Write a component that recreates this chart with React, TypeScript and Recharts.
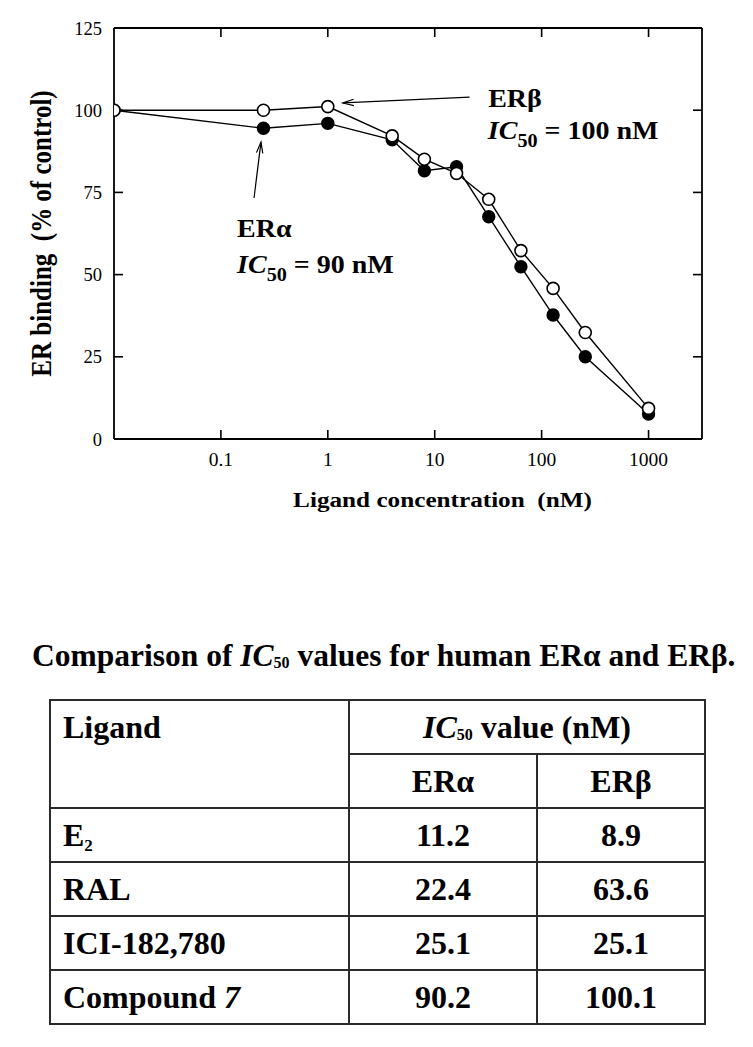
import React from 'react';
import { LineChart, Line, XAxis, YAxis, ReferenceLine, ReferenceDot } from 'recharts';

const concentrations = [0.01, 0.25, 1, 4, 8, 16, 32, 64, 128, 256, 1000];
const erAlphaBinding = [100, 94.5, 96.0, 91.0, 81.6, 82.8, 67.6, 52.4, 37.7, 25.0, 7.6];
const erBetaBinding = [100, 100, 101.1, 92.2, 85.1, 80.8, 72.9, 57.3, 45.8, 32.4, 9.3];
const xTicks = [0.1, 1, 10, 100, 1000];
const yTicks = [0, 25, 50, 75, 100, 125];
const xDomain = [0.01, 3162.28];
const yDomain = [0, 125];

const tableLigands = ['E2', 'RAL', 'ICI-182,780', 'Compound 7'];
const ic50Alpha = ['11.2', '22.4', '25.1', '90.2'];
const ic50Beta = ['8.9', '63.6', '25.1', '100.1'];

const data = concentrations.map((x, i) => ({ x, alpha: erAlphaBinding[i], beta: erBetaBinding[i] }));

const FONT = "'Liberation Serif', 'Times New Roman', Times, serif";
const INK = '#000';
const TICK_LEN = 9;

const arrowShape = (p: any) => {
  const { x1, y1, x2, y2 } = p;
  const dx = x2 - x1;
  const dy = y2 - y1;
  const len = Math.sqrt(dx * dx + dy * dy) || 1;
  const ux = dx / len;
  const uy = dy / len;
  const hl = 11;
  const hw = 3.2;
  const bx = x2 - ux * hl;
  const by = y2 - uy * hl;
  const px = -uy * hw;
  const py = ux * hw;
  return (
    <g>
      <line x1={x1} y1={y1} x2={x2} y2={y2} stroke={INK} strokeWidth={1.2} />
      <path d={`M${bx + px},${by + py} L${x2},${y2} L${bx - px},${by - py}`} fill="none" stroke={INK} strokeWidth={1.2} />
    </g>
  );
};

// inward tick marks on bottom and top borders
const xTickShape = (p: any) => {
  const top = Math.min(p.y1, p.y2);
  const bot = Math.max(p.y1, p.y2);
  return (
    <g>
      <line x1={p.x1} x2={p.x1} y1={bot} y2={bot - TICK_LEN} stroke={INK} strokeWidth={1.6} />
      <line x1={p.x1} x2={p.x1} y1={top} y2={top + TICK_LEN} stroke={INK} strokeWidth={1.6} />
    </g>
  );
};

// inward tick marks on left and right borders
const yTickShape = (p: any) => {
  const left = Math.min(p.x1, p.x2);
  const right = Math.max(p.x1, p.x2);
  return (
    <g>
      <line x1={left} x2={left + TICK_LEN} y1={p.y1} y2={p.y1} stroke={INK} strokeWidth={1.6} />
      <line x1={right} x2={right - TICK_LEN} y1={p.y1} y2={p.y1} stroke={INK} strokeWidth={1.6} />
    </g>
  );
};

const xTickLabel = (p: any) => (
  <text x={p.x} y={p.y} dy="0.71em" textAnchor="middle" fontFamily={FONT} fontSize={19.5} fill={INK}>
    {String(p.payload.value)}
  </text>
);

const yTickLabel = (p: any) => (
  <text x={p.x} y={p.y} dy="0.355em" textAnchor="end" fontFamily={FONT} fontSize={18.5} fill={INK}>
    {String(p.payload.value)}
  </text>
);

const nameLabel = (txt: string) => (p: any) => (
  <text
    transform={`translate(${p.cx},${p.cy}) scale(1.12,1)`}
    fontFamily={FONT}
    fontWeight="bold"
    fontSize={25}
    fill={INK}
  >
    {txt}
  </text>
);

const icLabel = (value: string) => (p: any) => (
  <text
    transform={`translate(${p.cx},${p.cy}) scale(1.12,1)`}
    fontFamily={FONT}
    fontWeight="bold"
    fontSize={25}
    fill={INK}
    style={{ whiteSpace: 'pre' }}
  >
    <tspan fontStyle="italic">IC</tspan>
    <tspan fontSize={18} dy={8}>50</tspan>
    <tspan dy={-8}>{` = ${value} nM`}</tspan>
  </text>
);

const yLabel = (props: any) => {
  const vb = props.viewBox || {};
  const cx = vb.x - 3;
  const cy = vb.y + vb.height / 2;
  return (
    <text
      transform={`translate(${cx},${cy}) rotate(-90) scale(1,1.15)`}
      textAnchor="middle"
      fontFamily={FONT}
      fontWeight="bold"
      fontSize={25}
      fill={INK}
      style={{ whiteSpace: 'pre' }}
    >
      {'ER binding  (% of control)'}
    </text>
  );
};

const xLabel = (props: any) => {
  const vb = props.viewBox || {};
  const cx = vb.x + vb.width / 2 + 34.5;
  const cy = vb.y + 68;
  return (
    <text
      transform={`translate(${cx},${cy}) scale(1.2,1)`}
      textAnchor="middle"
      fontFamily={FONT}
      fontWeight="bold"
      fontSize={21}
      fill={INK}
      style={{ whiteSpace: 'pre' }}
    >
      {'Ligand concentration  (nM)'}
    </text>
  );
};

const renderLigand = (name: string) => {
  if (name === 'E2') {
    return (
      <span>
        E<span style={{ fontSize: 17, position: 'relative', top: 5 }}>2</span>
      </span>
    );
  }
  if (name.startsWith('Compound ')) {
    return (
      <span>
        Compound <i>{name.slice(9)}</i>
      </span>
    );
  }
  return name;
};

const border = '2px solid #2b2b2b';
const cellBase: React.CSSProperties = {
  border,
  height: 52,
  padding: 0,
  verticalAlign: 'middle',
};

export default function App() {
  const axisStroke = { stroke: INK, strokeWidth: 1.8 };
  return (
    <div style={{ position: 'relative', width: 737, height: 1031, background: '#fff' }}>
      <LineChart width={737} height={511} data={data} margin={{ top: 20, right: 43, bottom: 0, left: 46 }}>
        <XAxis
          dataKey="x"
          type="number"
          scale="log"
          domain={xDomain}
          allowDataOverflow
          ticks={xTicks}
          interval={0}
          tickSize={0}
          tickMargin={13}
          height={80}
          axisLine={axisStroke}
          tickLine={false}
          tick={xTickLabel}
          label={{ content: xLabel }}
        />
        <YAxis
          type="number"
          domain={yDomain}
          ticks={yTicks}
          interval={0}
          width={60}
          tickSize={0}
          tickMargin={12}
          axisLine={axisStroke}
          tickLine={false}
          tick={yTickLabel}
          label={{ content: yLabel }}
        />
        <ReferenceLine y={yDomain[1]} ifOverflow="visible" stroke={INK} strokeWidth={1.8} />
        <ReferenceLine x={xDomain[1]} ifOverflow="visible" stroke={INK} strokeWidth={1.8} />
        {xTicks.map((t) => (
          <ReferenceLine key={`xt${t}`} x={t} ifOverflow="visible" shape={xTickShape} />
        ))}
        {yTicks.map((t) => (
          <ReferenceLine key={`yt${t}`} y={t} ifOverflow="visible" shape={yTickShape} />
        ))}
        <Line
          dataKey="alpha"
          stroke={INK}
          strokeWidth={1.4}
          dot={{ r: 6, fill: INK, stroke: INK, strokeWidth: 1.4 }}
          activeDot={false}
          isAnimationActive={false}
        />
        <Line
          dataKey="beta"
          stroke={INK}
          strokeWidth={1.4}
          dot={{ r: 6, fill: '#fff', stroke: INK, strokeWidth: 1.6 }}
          activeDot={false}
          isAnimationActive={false}
        />
        <ReferenceLine
          segment={[{ x: 21.2, y: 104.0 }, { x: 1.38, y: 102.2 }]}
          ifOverflow="visible"
          shape={arrowShape}
        />
        <ReferenceLine
          segment={[{ x: 0.204, y: 73.3 }, { x: 0.237, y: 90.3 }]}
          ifOverflow="visible"
          shape={arrowShape}
        />
        <ReferenceDot x={31.6} y={101.0} ifOverflow="visible" shape={nameLabel('ERβ')} />
        <ReferenceDot x={31.4} y={91.2} ifOverflow="visible" shape={icLabel('100')} />
        <ReferenceDot x={0.1416} y={61.4} ifOverflow="visible" shape={nameLabel('ERα')} />
        <ReferenceDot x={0.1416} y={50.5} ifOverflow="visible" shape={icLabel('90')} />
      </LineChart>

      <div
        style={{
          position: 'absolute',
          left: 24,
          top: 630,
          fontFamily: FONT,
          fontWeight: 'bold',
          fontSize: 31.5,
          lineHeight: '36px',
          whiteSpace: 'nowrap',
          color: INK,
        }}
      >
        Comparison of <i>IC</i>
        <span style={{ fontSize: 16, position: 'relative', top: 2 }}>50</span> values for human ERα and ERβ.
      </div>

      <table
        style={{
          position: 'absolute',
          left: 41,
          top: 691,
          width: 655,
          borderCollapse: 'collapse',
          tableLayout: 'fixed',
          fontFamily: FONT,
          fontWeight: 'bold',
          fontSize: 32,
          color: INK,
        }}
      >
        <colgroup>
          <col style={{ width: 299 }} />
          <col style={{ width: 188 }} />
          <col style={{ width: 168 }} />
        </colgroup>
        <tbody>
          <tr>
            <td rowSpan={2} style={{ ...cellBase, verticalAlign: 'top' }}>
              <div style={{ height: 52, lineHeight: '52px', paddingLeft: 12 }}>Ligand</div>
            </td>
            <td colSpan={2} style={{ ...cellBase, textAlign: 'center' }}>
              <i>IC</i>
              <span style={{ fontSize: 16, position: 'relative', top: 2 }}>50</span> value (nM)
            </td>
          </tr>
          <tr>
            <td style={{ ...cellBase, textAlign: 'center' }}>ERα</td>
            <td style={{ ...cellBase, textAlign: 'center' }}>ERβ</td>
          </tr>
          {tableLigands.map((name, i) => (
            <tr key={name}>
              <td style={{ ...cellBase, paddingLeft: 12 }}>{renderLigand(name)}</td>
              <td style={{ ...cellBase, textAlign: 'center' }}>{ic50Alpha[i]}</td>
              <td style={{ ...cellBase, textAlign: 'center' }}>{ic50Beta[i]}</td>
            </tr>
          ))}
        </tbody>
      </table>
    </div>
  );
}
